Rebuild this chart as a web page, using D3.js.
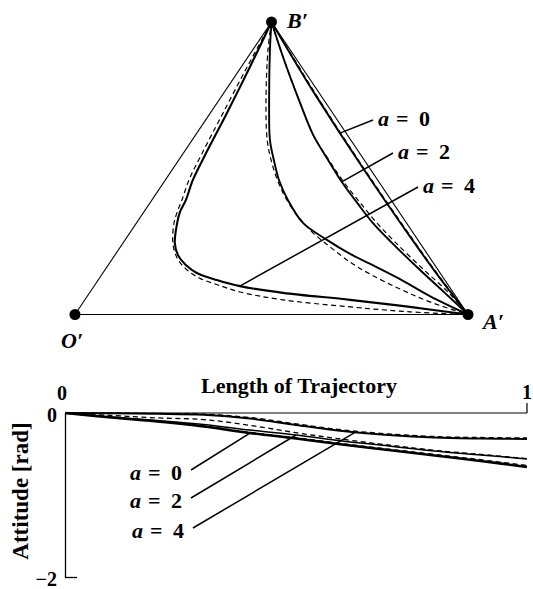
<!DOCTYPE html>
<html><head><meta charset="utf-8">
<script src="https://cdn.jsdelivr.net/npm/d3@7"></script>
<style>
html,body{margin:0;padding:0;background:#fff;}
svg{display:block;}
text{fill:#000;font-family:"Liberation Serif","Times New Roman",serif;font-weight:bold;}
</style></head><body>
<svg id="fig" width="533" height="589"></svg>
<script>
// ---- triangle vertices (normalised plane) ----
const vertexNames = ["O′", "A′", "B′"];
const vertexX = [0, 1, 0.5];
const vertexY = [0, 0, 1];

// ---- trajectories in the plane: [x, y] ----
const planeA0Solid = [[0.5,1],[0.555,0.875],[0.612,0.75],[0.733,0.5],[0.861,0.25],[0.928,0.125],[1,0]];
const planeA0Dashed = [[0.5,1],[0.557,0.875],[0.614,0.75],[0.735,0.5],[0.863,0.25],[0.930,0.125],[1,0]];
const planeA2Solid = [[0.5,1],[0.532,0.870],[0.570,0.733],[0.606,0.614],[0.644,0.528],[0.679,0.453],[0.720,0.378],[0.756,0.316],[0.802,0.251],[0.878,0.152],[0.941,0.074],[1,0]];
const planeA2Dashed = [[0.5,1],[0.532,0.870],[0.570,0.733],[0.606,0.614],[0.646,0.528],[0.684,0.453],[0.728,0.378],[0.766,0.316],[0.812,0.251],[0.885,0.156],[0.949,0.077],[1,0]];
const planeMidSolid = [[0.5,1],[0.496,0.904],[0.494,0.733],[0.496,0.597],[0.506,0.528],[0.519,0.460],[0.542,0.391],[0.580,0.313],[0.641,0.255],[0.700,0.207],[0.751,0.173],[0.827,0.121],[0.903,0.063],[1,0]];
const planeMidDashed = [[0.5,1],[0.491,0.904],[0.486,0.733],[0.489,0.597],[0.499,0.528],[0.517,0.453],[0.547,0.374],[0.598,0.289],[0.649,0.231],[0.700,0.179],[0.751,0.138],[0.827,0.087],[0.903,0.043],[1,0]];
const planeA4Solid = [[0.5,1],[0.445,0.846],[0.384,0.682],[0.331,0.545],[0.300,0.460],[0.282,0.391],[0.267,0.350],[0.260,0.313],[0.254,0.244],[0.262,0.203],[0.282,0.169],[0.310,0.142],[0.361,0.118],[0.420,0.097],[0.529,0.074],[0.700,0.050],[0.852,0.026],[1,0]];
const planeA4Dashed = [[0.5,1],[0.438,0.846],[0.374,0.682],[0.321,0.545],[0.290,0.460],[0.272,0.391],[0.260,0.350],[0.252,0.313],[0.249,0.244],[0.260,0.193],[0.282,0.156],[0.316,0.125],[0.364,0.101],[0.420,0.077],[0.529,0.050],[0.700,0.026],[0.852,0.009],[1,0]];

// ---- attitude along the trajectory ----
const trajLength = [0,0.1,0.2,0.3,0.4,0.5,0.6,0.7,0.8,0.9,1.0];
const attA0Solid  = [0,-0.055,-0.104,-0.165,-0.244,-0.311,-0.384,-0.451,-0.518,-0.585,-0.659];
const attA0Dashed = [0,-0.050,-0.098,-0.158,-0.236,-0.302,-0.373,-0.440,-0.505,-0.570,-0.640];
const attA2Solid  = [0,-0.049,-0.091,-0.140,-0.207,-0.268,-0.341,-0.402,-0.463,-0.512,-0.561];
const attA2Dashed = [0,-0.030,-0.060,-0.080,-0.150,-0.240,-0.320,-0.390,-0.455,-0.505,-0.556];
const attA4Solid  = [0,-0.004,-0.010,-0.022,-0.067,-0.146,-0.220,-0.268,-0.299,-0.311,-0.317];
const attA4Dashed = [0,-0.002,-0.006,-0.014,-0.055,-0.132,-0.206,-0.255,-0.287,-0.299,-0.305];

const aValues = ["0", "2", "4"];
const attTicks = [0, -2];
const lengthTicks = [0, 1];

const svg = d3.select("#fig");

// ================= upper panel: trajectories in the plane =================
const px = d3.scaleLinear().domain([0,1]).range([75,468]);
const py = d3.scaleLinear().domain([0,1]).range([314.5,22]);
const planeLine = d3.line().x(d => px(d[0])).y(d => py(d[1])).curve(d3.curveCatmullRom.alpha(0.5));
const upper = svg.append("g");

// triangle edges
[[0,1],[0,2],[2,1]].forEach(([i,j]) => {
  upper.append("line")
    .attr("x1", px(vertexX[i])).attr("y1", py(vertexY[i]))
    .attr("x2", px(vertexX[j])).attr("y2", py(vertexY[j]))
    .attr("stroke", "#000").attr("stroke-width", 1.1);
});

function drawCurve(g, gen, data, dashed, width) {
  return g.append("path").attr("d", gen(data)).attr("fill", "none")
    .attr("stroke", "#000").attr("stroke-width", width)
    .attr("stroke-dasharray", dashed ? "5,3.5" : null);
}

drawCurve(upper, planeLine, planeA0Dashed, true, 1.2);
drawCurve(upper, planeLine, planeA2Dashed, true, 1.2);
drawCurve(upper, planeLine, planeMidDashed, true, 1.2);
drawCurve(upper, planeLine, planeA4Dashed, true, 1.2);
const pA0 = drawCurve(upper, planeLine, planeA0Solid, false, 1.9);
const pA2 = drawCurve(upper, planeLine, planeA2Solid, false, 1.9);
drawCurve(upper, planeLine, planeMidSolid, false, 1.9);
const pA4 = drawCurve(upper, planeLine, planeA4Solid, false, 2.1);

// point on a drawn path closest to a given screen coordinate along one axis
function pointOnPath(pathSel, axis, target) {
  const node = pathSel.node();
  const L = node.getTotalLength();
  let best = null, bd = Infinity;
  for (let i = 0; i <= 600; i++) {
    const p = node.getPointAtLength(L * i / 600);
    const d = Math.abs(p[axis] - target);
    if (d < bd) { bd = d; best = p; }
  }
  return best;
}

// vertices
vertexNames.forEach((n, i) => {
  upper.append("circle").attr("cx", px(vertexX[i])).attr("cy", py(vertexY[i])).attr("r", 5.5).attr("fill", "#000");
});
const vertexLabelPos = [[61,348],[483,329],[287,28]];
vertexNames.forEach((n, i) => {
  upper.append("text").attr("x", vertexLabelPos[i][0]).attr("y", vertexLabelPos[i][1])
    .attr("font-size", 22).attr("font-style", "italic").text(n);
});

function mathLabel(g, x, y, digit) {
  const t = g.append("text").attr("y", y).attr("font-size", 22);
  t.append("tspan").attr("x", x).attr("font-style", "italic").text("a");
  t.append("tspan").attr("x", x + 18).text("=");
  t.append("tspan").attr("x", x + 41).text(digit);
}

// labels and leaders, upper panel
const upperPaths = [pA0, pA2, pA4];
const upperAnchorY = [py(0.62), py(0.453), py(0.097)];
const upperLabelX = [378, 398, 423];
const upperLabelY = [126, 159, 193];
aValues.forEach((v, i) => {
  const p = pointOnPath(upperPaths[i], "y", upperAnchorY[i]);
  upper.append("line").attr("x1", p.x).attr("y1", p.y)
    .attr("x2", upperLabelX[i] - 5).attr("y2", upperLabelY[i] - 6)
    .attr("stroke", "#000").attr("stroke-width", 1.5);
  mathLabel(upper, upperLabelX[i], upperLabelY[i], v);
});

// ================= lower panel: attitude vs. length =================
const bx = d3.scaleLinear().domain([0,1]).range([65,527]);
const by = d3.scaleLinear().domain([-2,0]).range([577,413]);
const lower = svg.append("g");
const attLine = d3.line().x((d,i) => bx(trajLength[i])).y(d => by(d)).curve(d3.curveCatmullRom.alpha(0.5));

// zero line / length axis at the top
lower.append("line").attr("x1", bx(0)).attr("x2", bx(1)).attr("y1", by(0)).attr("y2", by(0))
  .attr("stroke", "#000").attr("stroke-width", 1.2);
lower.append("line").attr("x1", bx(1)).attr("x2", bx(1)).attr("y1", by(0)).attr("y2", by(0) - 10)
  .attr("stroke", "#000").attr("stroke-width", 1.2);
lengthTicks.forEach((v, i) => {
  lower.append("text").attr("x", bx(v) - (i === 0 ? 3 : 0)).attr("y", i === 0 ? 400 : 399)
    .attr("text-anchor", "middle").attr("font-size", 20).text(String(v));
});
lower.append("text").attr("x", 299).attr("y", 393).attr("text-anchor", "middle")
  .attr("font-size", 22).text("Length of Trajectory");

// attitude axis
const yAxis = d3.axisLeft(by).tickValues(attTicks).tickSize(-12).tickSizeOuter(0).tickPadding(8)
  .tickFormat(d => d < 0 ? "−" + Math.abs(d) : String(d));
const ya = lower.append("g").attr("transform", `translate(${bx(0)},0)`).call(yAxis);
ya.select(".domain").attr("stroke-width", 1.3);
ya.selectAll(".tick line").attr("stroke-width", 1.3);
ya.selectAll(".tick text").attr("font-size", 20).attr("font-family", "Liberation Serif").attr("font-weight", "bold")
  .attr("dy", "0.4em");
lower.append("text").attr("transform", "translate(28,491) rotate(-90)").attr("text-anchor", "middle")
  .attr("font-size", 23).text("Attitude [rad]");

drawCurve(lower, attLine, attA4Dashed, true, 1.3);
drawCurve(lower, attLine, attA2Dashed, true, 1.3);
drawCurve(lower, attLine, attA0Dashed, true, 1.3);
const bA4 = drawCurve(lower, attLine, attA4Solid, false, 2.0);
const bA2 = drawCurve(lower, attLine, attA2Solid, false, 1.5);
const bA0 = drawCurve(lower, attLine, attA0Solid, false, 2.6);

const lowerPaths = [bA0, bA2, bA4];
const lowerAnchorX = [bx(0.4), bx(0.5), bx(0.628)];
const lowerLabelX = [130, 130, 132];
const lowerLabelY = [480, 508, 538];
aValues.forEach((v, i) => {
  const p = pointOnPath(lowerPaths[i], "x", lowerAnchorX[i]);
  lower.append("line").attr("x1", lowerLabelX[i] + 61).attr("y1", lowerLabelY[i] - 10)
    .attr("x2", p.x).attr("y2", p.y)
    .attr("stroke", "#000").attr("stroke-width", 1.5);
  mathLabel(lower, lowerLabelX[i], lowerLabelY[i], v);
});
</script>
</body></html>
